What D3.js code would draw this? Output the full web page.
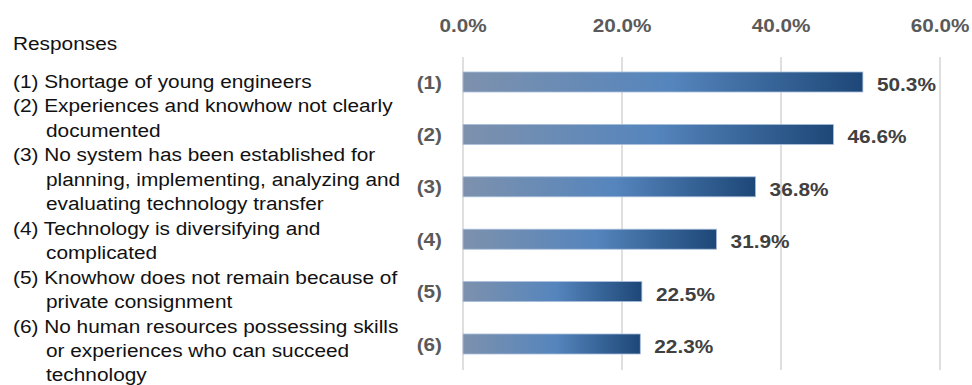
<!DOCTYPE html>
<html>
<head>
<meta charset="utf-8">
<script src="https://cdn.jsdelivr.net/npm/d3@7"></script>
<style>
  html, body { margin: 0; padding: 0; background: #fff; }
  svg { display: block; font-family: "Liberation Sans", Arial, sans-serif; }
</style>
</head>
<body>
<svg id="chart" width="972" height="385"></svg>
<script>
// Survey responses: share of respondents choosing each issue (%)
const categories = ["(1)", "(2)", "(3)", "(4)", "(5)", "(6)"];
const values = [50.3, 46.6, 36.8, 31.9, 22.5, 22.3];
const tickValues = [0, 20, 40, 60];
const legendTitle = "Responses";
const legendItems = [
  ["(1)", ["Shortage of young engineers"]],
  ["(2)", ["Experiences and knowhow not clearly", "documented"]],
  ["(3)", ["No system has been established for", "planning, implementing, analyzing and", "evaluating technology transfer"]],
  ["(4)", ["Technology is diversifying and", "complicated"]],
  ["(5)", ["Knowhow does not remain because of", "private consignment"]],
  ["(6)", ["No human resources possessing skills", "or experiences who can succeed", "technology"]]
];

const svg = d3.select("#chart");
const SX = 1.12; // horizontal stretch applied to all lettering

function stretchedText(sel, x, y) {
  return sel.attr("transform", `translate(${x},${y}) scale(${SX},1)`);
}

const x = d3.scaleLinear().domain([0, 60]).range([463, 940]);
const y = d3.scaleBand().domain(categories)
  .range([55.8, 370.2]).paddingInner(0.618).paddingOuter(0.309);

// bar gradient: light slate on the left, steel blue mid, navy on the right
const grad = svg.append("defs").append("linearGradient")
  .attr("id", "barGrad").attr("x1", "0").attr("x2", "1").attr("y1", "0").attr("y2", "0");
grad.append("stop").attr("offset", "0%").attr("stop-color", "#7d91ad");
grad.append("stop").attr("offset", "52%").attr("stop-color", "#5585bd");
grad.append("stop").attr("offset", "100%").attr("stop-color", "#1d4777");

// vertical gridlines
svg.append("g").selectAll("line").data(tickValues).join("line")
  .attr("x1", d => x(d)).attr("x2", d => x(d))
  .attr("y1", 57).attr("y2", 370)
  .attr("stroke", "#d4d4d4").attr("stroke-width", 1.5);

// top axis tick labels
svg.append("g").selectAll("text").data(tickValues).join("text")
  .each(function(d) { stretchedText(d3.select(this), x(d), 32); })
  .attr("text-anchor", "middle")
  .attr("font-size", 18.5).attr("font-weight", "bold").attr("fill", "#5a5a5a")
  .text(d => d.toFixed(1) + "%");

// bars
svg.append("g").selectAll("rect").data(values).join("rect")
  .attr("x", x(0))
  .attr("y", (d, i) => y(categories[i]))
  .attr("width", d => x(d) - x(0))
  .attr("height", y.bandwidth())
  .attr("fill", "url(#barGrad)")
  .attr("stroke", "#a9bfdc").attr("stroke-width", 0.8);

// category labels
svg.append("g").selectAll("text").data(categories).join("text")
  .each(function(d) { stretchedText(d3.select(this), 442, y(d) + y.bandwidth() / 2 + 6.5); })
  .attr("text-anchor", "end")
  .attr("font-size", 18.5).attr("font-weight", "bold").attr("fill", "#5a5a5a")
  .text(d => d);

// value labels
svg.append("g").selectAll("text").data(values).join("text")
  .each(function(d, i) { stretchedText(d3.select(this), x(d) + 14, y(categories[i]) + y.bandwidth() / 2 + 9); })
  .attr("font-size", 18.6).attr("font-weight", "bold").attr("fill", "#404040")
  .text(d => d.toFixed(1) + "%");

// response legend on the left
const legend = svg.append("g").attr("font-size", 18.6).attr("fill", "#111");
stretchedText(legend.append("text"), 13, 49.5).text(legendTitle);
let line = 0;
const lineTop = 88, lineStep = 24.45;
legendItems.forEach(([num, lines]) => {
  lines.forEach((t, j) => {
    const yy = lineTop + line * lineStep;
    if (j === 0) {
      stretchedText(legend.append("text"), 13, yy).text(num + " " + t);
    } else {
      stretchedText(legend.append("text"), 46, yy).text(t);
    }
    line++;
  });
});
</script>
</body>
</html>
